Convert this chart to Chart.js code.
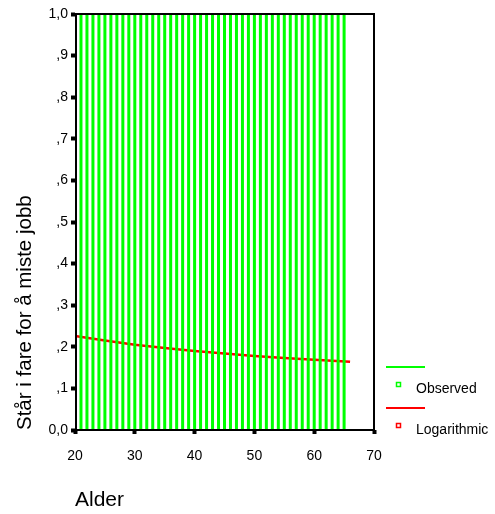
<!DOCTYPE html>
<html>
<head>
<meta charset="utf-8">
<script src="https://cdn.jsdelivr.net/npm/chart.js@4/dist/chart.umd.min.js"></script>
<style>
  html, body { margin: 0; padding: 0; background: #fff; }
  canvas { display: block; }
</style>
</head>
<body>
<canvas id="chart" width="495" height="514"></canvas>
<script>
// Observed: at every age there are cases with 0 and with 1
const ages    = [20,21,22,23,24,25,26,27,28,29,30,31,32,33,34,35,36,37,38,39,40,41,42,
                 43,44,45,46,47,48,49,50,51,52,53,54,55,56,57,58,59,60,61,62,63,64,65];
const obsLow  = ages.map(() => 0);
const obsHigh = ages.map(() => 1);

// Logarithmic fit
const fitAges   = [20, 25, 30, 35, 40, 45, 50, 55, 60, 66];
const fitValues = [0.226, 0.215, 0.205, 0.197, 0.190, 0.184, 0.178, 0.173, 0.169, 0.164];

const seriesNames  = ['Observed', 'Logarithmic'];
const seriesColors = ['#00ff00', '#ff0000'];

const FONT = "'Liberation Sans', Arial, sans-serif";

// vertical strokes from low to high at each age, broken apart with nulls
const observedPts = [];
ages.forEach((a, i) => {
  observedPts.push({ x: a, y: obsLow[i] }, { x: a, y: obsHigh[i] }, { x: a, y: null });
});
const fitPts = fitAges.map((a, i) => ({ x: a, y: fitValues[i] }));

// frame around the plot + legend on the right
const framePlugin = {
  id: 'frame',
  afterDatasetsDraw(chart) {
    const { ctx, chartArea: ca } = chart;
    ctx.save();
    ctx.strokeStyle = '#000';
    ctx.lineWidth = 2;
    ctx.strokeRect(ca.left + 1, ca.top, ca.right - ca.left - 1, ca.bottom - ca.top);
    ctx.restore();
  },
  afterDraw(chart) {
    const ctx = chart.ctx;
    ctx.save();
    ctx.font = '14px ' + FONT;
    ctx.textBaseline = 'middle';
    ctx.fillStyle = '#000';
    seriesNames.forEach((name, i) => {
      const y0 = 367 + i * 41;
      ctx.strokeStyle = seriesColors[i];
      ctx.lineWidth = 2;
      ctx.beginPath();
      ctx.moveTo(386, y0);
      ctx.lineTo(425, y0);
      ctx.stroke();
      ctx.lineWidth = 1.5;
      ctx.strokeRect(396.5, y0 + 15.5, 4, 4);
      ctx.fillText(name, 416, y0 + 22);
    });
    ctx.restore();
  }
};

new Chart(document.getElementById('chart'), {
  type: 'scatter',
  data: {
    datasets: [
      {
        label: seriesNames[0],
        data: observedPts,
        showLine: true,
        spanGaps: false,
        borderColor: seriesColors[0],
        borderWidth: 3,
        pointRadius: 0
      },
      {
        label: seriesNames[1],
        data: fitPts,
        showLine: true,
        borderColor: seriesColors[1],
        borderWidth: 2.5,
        pointRadius: 0
      }
    ]
  },
  options: {
    responsive: false,
    animation: false,
    layout: { padding: { top: 14, right: 121, left: 0, bottom: 0 } },
    plugins: { legend: { display: false }, tooltip: { enabled: false } },
    scales: {
      x: {
        type: 'linear',
        min: 20, max: 70,
        afterFit: s => { s.height = 84; },
        border: { display: false },
        grid: { drawOnChartArea: false, tickLength: 4, tickWidth: 4, color: '#000' },
        ticks: { stepSize: 10, color: '#000', font: { family: FONT, size: 14 }, padding: 14 },
        title: {
          display: true, text: 'Alder', align: 'start', color: '#000',
          font: { family: FONT, size: 21 }, padding: { top: 0, bottom: 1 }
        }
      },
      y: {
        min: 0, max: 1,
        afterFit: s => { s.width = 75; },
        border: { display: false },
        grid: { drawOnChartArea: false, tickLength: 4, tickWidth: 4, color: '#000' },
        ticks: {
          stepSize: 0.1, color: '#000', font: { family: FONT, size: 14 }, padding: 3,
          callback: v => {
            const n = Math.round(v * 10);
            if (n === 0) return '0,0';
            if (n === 10) return '1,0';
            return ',' + n;
          }
        },
        title: {
          display: true, text: 'Står i fare for å miste jobb', align: 'start', color: '#000',
          font: { family: FONT, size: 20.5 }, padding: { top: 13, bottom: 0 }
        }
      }
    }
  },
  plugins: [framePlugin]
});
</script>
</body>
</html>
